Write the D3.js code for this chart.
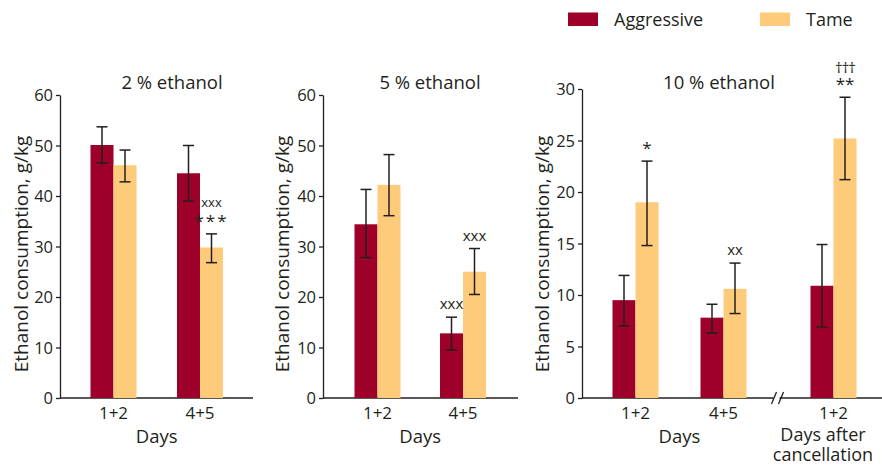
<!DOCTYPE html>
<html>
<head>
<meta charset="utf-8">
<script src="https://cdn.jsdelivr.net/npm/d3@7"></script>
<style>
  body { margin: 0; background: #fff; }
  svg text { font-family: "Open Sans", "Noto Sans", sans-serif; fill: #231f20; }
</style>
</head>
<body>
<svg id="chart" width="882" height="466"></svg>
<script>
// ---- data ----
const seriesNames = ["Aggressive", "Tame"];
const panelTitles = ["2 % ethanol", "5 % ethanol", "10 % ethanol"];
const panelCategories = [["1+2", "4+5"], ["1+2", "4+5"], ["1+2", "4+5", "1+2 "]];
const panelYMax = [60, 60, 30];
const panelYTicks = [[0, 10, 20, 30, 40, 50, 60], [0, 10, 20, 30, 40, 50, 60], [0, 5, 10, 15, 20, 25, 30]];
// means per category
const aggressiveMeans = [[50.1, 44.5], [34.4, 12.8], [9.5, 7.8, 10.9]];
const tameMeans = [[46.1, 29.8], [42.2, 25.0], [19.0, 10.6, 25.2]];
// error bar [low, high]
const aggressiveErr = [[[46.5, 53.7], [39.0, 50.0]], [[27.8, 41.3], [9.5, 16.0]], [[7.0, 11.9], [6.3, 9.1], [6.9, 14.9]]];
const tameErr = [[[42.8, 49.1], [26.8, 32.5]], [[36.1, 48.2], [20.5, 29.6]], [[14.8, 23.0], [8.2, 13.1], [21.2, 29.2]]];
// significance marks: [panel, category index, series index, lines (bottom first)]
const marks = [
  [0, 1, 1, ["***", "xxx"]],
  [1, 1, 0, ["xxx"]],
  [1, 1, 1, ["xxx"]],
  [2, 0, 1, ["*"]],
  [2, 1, 1, ["xx"]],
  [2, 2, 1, ["**", "†††"]]
];
const xAxisTitles = ["Days", "Days", "Days"];
const extraXTitle = ["Days after", "cancellation"];
const yAxisTitle = "Ethanol consumption, g/kg";

// ---- layout ----
const colors = { Aggressive: "#9d0029", Tame: "#fdcb79" };
const ink = "#231f20";
const svg = d3.select("#chart");
const panels = [
  { axisX: 60, axisEnd: 253, titleX: 172, labelX: 21, catPos: [0, 1] },
  { axisX: 323, axisEnd: 518, titleX: 430, labelX: 282, catPos: [0, 1] },
  { axisX: 582, axisEnd: 882, titleX: 719, labelX: 542, catPos: [0, 1, 2.25] }
];
const barW = 23;

panels.forEach((p, i) => {
  const g = svg.append("g");
  const y = d3.scaleLinear().domain([0, panelYMax[i]]).range([398, 95 - (i === 2 ? 6 : 0)]);
  const x = d3.scaleLinear().domain([0, 1]).range([p.axisX + 53.5 + (i === 1 ? 1 : 0), p.axisX + 140 + (i === 2 ? 1.5 : 0)]);

  // y axis
  const ya = d3.axisLeft(y).tickValues(panelYTicks[i]).tickSize(4).tickPadding(3).tickSizeOuter(0);
  const yg = g.append("g").attr("transform", `translate(${p.axisX},0)`).call(ya);
  yg.select(".domain").attr("stroke", ink).attr("stroke-width", 1.3);
  yg.selectAll(".tick line").attr("stroke", ink).attr("stroke-width", 1.3);
  yg.selectAll(".tick text").style("font-size", "16.5px").attr("fill", ink).attr("dy", "0.36em");

  // x axis line (baseline)
  if (i < 2) {
    g.append("line").attr("x1", p.axisX).attr("x2", p.axisEnd).attr("y1", y(0)).attr("y2", y(0))
      .attr("stroke", ink).attr("stroke-width", 1.3);
  } else {
    const bx = (x(1) + x(2.25)) / 2 - 3;
    g.append("line").attr("x1", p.axisX).attr("x2", bx - 2).attr("y1", y(0)).attr("y2", y(0))
      .attr("stroke", ink).attr("stroke-width", 1.3);
    g.append("line").attr("x1", bx + 4).attr("x2", p.axisEnd).attr("y1", y(0)).attr("y2", y(0))
      .attr("stroke", ink).attr("stroke-width", 1.3);
    [bx - 4, bx + 3].forEach(sx => {
      g.append("line").attr("x1", sx).attr("x2", sx + 5).attr("y1", y(0) + 6).attr("y2", y(0) - 6)
        .attr("stroke", ink).attr("stroke-width", 1.3);
    });
  }

  // bars
  panelCategories[i].forEach((cat, ci) => {
    const cx = x(p.catPos[ci]);
    const vals = [aggressiveMeans[i][ci], tameMeans[i][ci]];
    const errs = [aggressiveErr[i][ci], tameErr[i][ci]];
    vals.forEach((v, si) => {
      const bx = si === 0 ? cx - barW : cx;
      g.append("rect").attr("x", bx).attr("y", y(v)).attr("width", barW).attr("height", y(0) - y(v))
        .attr("fill", colors[seriesNames[si]]);
    });
    vals.forEach((v, si) => {
      const ex = (si === 0 ? cx - barW : cx) + barW / 2;
      const [lo, hi] = errs[si];
      g.append("line").attr("x1", ex).attr("x2", ex).attr("y1", y(lo)).attr("y2", y(hi)).attr("stroke", ink).attr("stroke-width", 1.5);
      [lo, hi].forEach(e => g.append("line").attr("x1", ex - 5.5).attr("x2", ex + 5.5).attr("y1", y(e)).attr("y2", y(e))
        .attr("stroke", ink).attr("stroke-width", 1.5));
    });
    // x tick label
    g.append("text").attr("x", cx).attr("y", 419).attr("text-anchor", "middle").style("font-size", "17px").text(cat.trim());
  });

  // significance marks
  marks.filter(m => m[0] === i).forEach(m => {
    const [, ci, si, lines] = m;
    const cx = x(p.catPos[ci]);
    const ex = (si === 0 ? cx - barW : cx) + barW / 2;
    const top = y((si === 0 ? aggressiveErr : tameErr)[i][ci][1]);
    let base = top - 6;
    lines.forEach(t => {
      const isX = t.startsWith("x");
      const isDag = t.startsWith("†");
      const fs = isX ? (i === 0 ? 13 : 15) : (isDag ? 15 : 17);
      g.append("text").attr("x", ex).attr("y", isX ? base - 2 : (isDag ? base + 1 : base - 1)).attr("text-anchor", "middle")
        .style("font-size", fs + "px").attr("fill", "#3a3a3a")
        .attr("letter-spacing", isDag ? "-1px" : (t.startsWith("*") && t.length === 3 ? "2px" : null))
        .text(t);
      base -= 19;
    });
  });

  // title
  g.append("text").attr("x", p.titleX).attr("y", 89).attr("text-anchor", "middle").style("font-size", "18.5px").text(panelTitles[i]);
  // y title
  g.append("text").attr("transform", `translate(${p.labelX + 7},254) rotate(-90)`).attr("text-anchor", "middle")
    .style("font-size", "19px").text(yAxisTitle);
  // x title
  const dx = (x(0) + x(1)) / 2;
  g.append("text").attr("x", dx).attr("y", 443).attr("text-anchor", "middle").style("font-size", "18.5px").text(xAxisTitles[i]);
  if (i === 2) {
    extraXTitle.forEach((t, k) => g.append("text").attr("x", 823).attr("y", 441 + k * 20)
      .attr("text-anchor", "middle").style("font-size", "18px").text(t));
  }
});

// legend
const legend = svg.append("g");
const legendX = [568, 760];
seriesNames.forEach((s, k) => {
  legend.append("rect").attr("x", legendX[k]).attr("y", 12.5).attr("width", 30).attr("height", 13.5).attr("fill", colors[s]);
  legend.append("text").attr("x", legendX[k] + 46).attr("y", 25.5).style("font-size", "18px").text(s);
});
</script>
</body>
</html>
